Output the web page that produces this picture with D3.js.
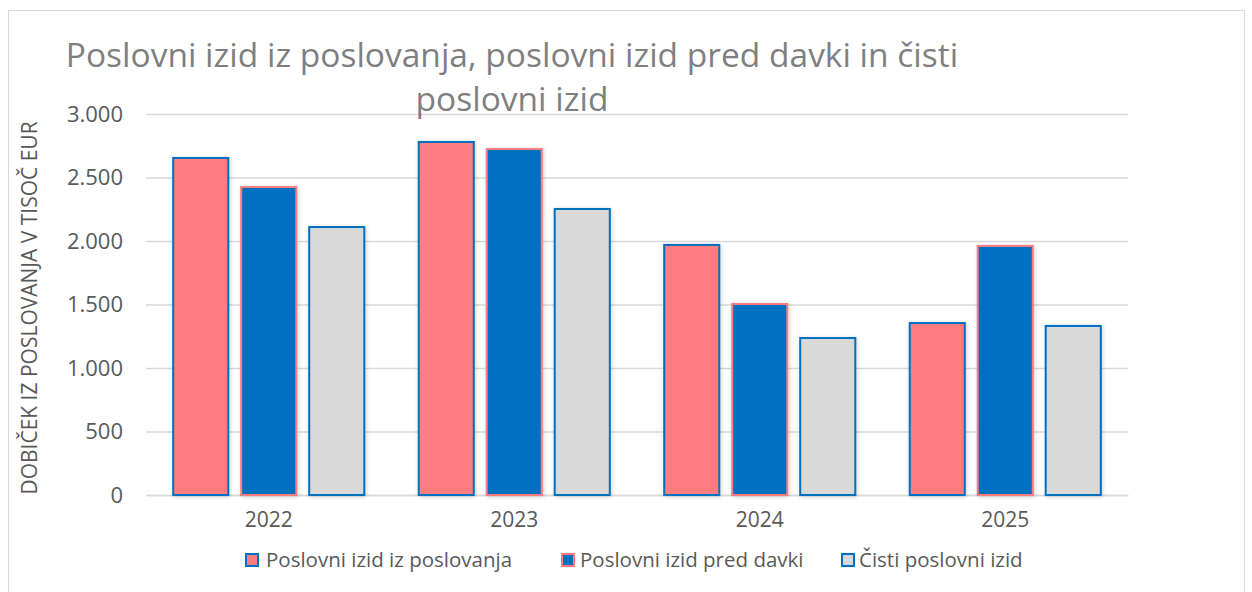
<!DOCTYPE html>
<html><head><meta charset="utf-8">
<script src="https://cdn.jsdelivr.net/npm/d3@7"></script>
<style>body{margin:0;background:#fff}svg{display:block}text{font-family:"Open Sans",sans-serif}</style>
</head><body><svg id="c" width="1252" height="592"></svg>
<script>
const categories = ["2022","2023","2024","2025"];
const seriesNames = ["Poslovni izid iz poslovanja","Poslovni izid pred davki","Čisti poslovni izid"];
const izidPoslovanja = [2654, 2780, 1969, 1354];
const izidPredDavki = [2425, 2724, 1504, 1961];
const cistiIzid = [2110, 2252, 1236, 1331];
const yTicks = [0, 500, 1000, 1500, 2000, 2500, 3000];
const titleLines = ["Poslovni izid iz poslovanja, poslovni izid pred davki in čisti","poslovni izid"];
const yTitle = "DOBIČEK IZ POSLOVANJA V TISOČ EUR";

const fills = ["#FF7C80","#0070C0","#D9D9D9"];
const strokes = ["#0070C0","#FF7C80","#0070C0"];
const series = [izidPoslovanja, izidPredDavki, cistiIzid];

const svg = d3.select("#c");
const defs = svg.append("defs");
const f = defs.append("filter").attr("id","sh").attr("x","-20%").attr("y","-20%").attr("width","140%").attr("height","140%");
f.append("feDropShadow").attr("dx",1).attr("dy",1).attr("stdDeviation",2).attr("flood-color","#000").attr("flood-opacity",0.18);

svg.append("rect").attr("x",8.5).attr("y",10.5).attr("width",1236).attr("height",600)
  .attr("fill","#fff").attr("stroke","#D9D9D9").attr("stroke-width",1);

const L=146,R=1128,T=114,B=495;
const x = d3.scaleBand().domain(categories).range([L,R]).paddingInner(0).paddingOuter(0);
const xs = d3.scaleBand().domain([0,1,2]).range([0,x.bandwidth()]).paddingInner(0.19).paddingOuter(0.40);
const y = d3.scaleLinear().domain([0,3000]).range([B,T]);

const fmt = d => d3.format(",")(d).replace(/,/g,".");
const yAxis = d3.axisLeft(y).tickValues(yTicks).tickSize(-(R-L)).tickFormat(fmt).tickPadding(23);
const gy = svg.append("g").attr("transform",`translate(${L},0)`).call(yAxis);
gy.select(".domain").remove();
gy.selectAll(".tick line").attr("stroke","#D9D9D9").attr("stroke-width",1.5);
gy.selectAll(".tick text").attr("fill","#595959").style("font-size","22px").style("font-family","'Open Sans',sans-serif");

const xAxis = d3.axisBottom(x).tickSize(0).tickPadding(17);
const gx = svg.append("g").attr("transform",`translate(0,${B})`).call(xAxis);
gx.select(".domain").attr("stroke","#D9D9D9").attr("stroke-width",1.5);
gx.selectAll(".tick text").attr("fill","#595959").style("font-size","21px").style("font-family","'Open Sans',sans-serif");

categories.forEach((c,i)=>{
  series.forEach((s,k)=>{
    svg.append("rect")
      .attr("x", x(c)+xs(k)).attr("width", xs.bandwidth())
      .attr("y", y(s[i])).attr("height", y(0)-y(s[i]))
      .attr("fill", fills[k]).attr("stroke", strokes[k]).attr("stroke-width",2)
      .attr("filter","url(#sh)");
  });
});

titleLines.forEach((t,i)=>{
  svg.append("text").attr("x",512).attr("y",67+i*44).attr("text-anchor","middle")
    .attr("fill","#7F7F7F").style("font-size","33.5px").text(t);
});

svg.append("text").attr("transform","translate(37,308) rotate(-90)").attr("text-anchor","middle")
  .attr("fill","#595959").style("font-size","21px").text(yTitle);

const legX = [246, 562, 842];
const legTX = [266, 580, 859];
seriesNames.forEach((n,k)=>{
  svg.append("rect").attr("x",legX[k]).attr("y",554).attr("width",12).attr("height",12)
    .attr("fill",fills[k]).attr("stroke",strokes[k]).attr("stroke-width",2);
  svg.append("text").attr("x",legTX[k]).attr("y",567).attr("fill","#595959")
    .style("font-size","20.5px").text(n);
});
</script></body></html>
